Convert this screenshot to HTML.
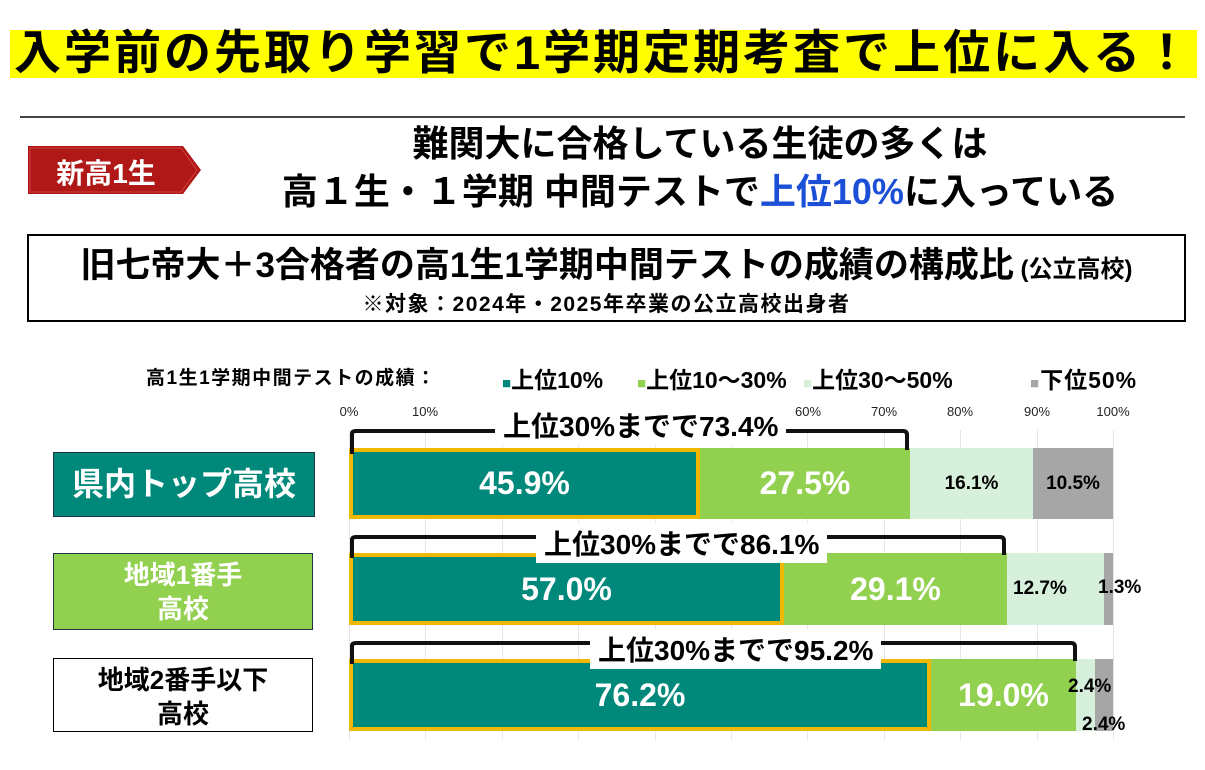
<!DOCTYPE html>
<html><head><meta charset="utf-8"><style>
body{margin:0;width:1205px;height:770px;background:#fff;position:relative;overflow:hidden;font-family:"Liberation Sans","Noto Sans CJK JP",sans-serif;}
.a{position:absolute;white-space:nowrap}
.b{font-weight:bold}
.seg{position:absolute;display:flex;align-items:center;justify-content:center;font-weight:bold}
.grid{position:absolute;top:430px;width:1px;height:310px;background:#e6e6e6}
.tick{position:absolute;top:404px;font-size:13px;color:#222;transform:translateX(-50%)}
</style></head><body>
<div class="a" style="left:10px;top:30px;width:1187px;height:48px;background:#ffff00"></div>
<div class="a b" style="left:14px;top:27px;font-size:47px;line-height:52px;letter-spacing:3px">入学前の先取り学習で1学期定期考査で上位に入る！</div>
<div class="a" style="left:20px;top:116px;width:1165px;height:2px;background:#444"></div>
<svg class="a" style="left:28px;top:146px" width="175" height="50"><polygon points="0,0 155,0 173,24 155,48 0,48" fill="#b01818"/><polygon points="2,2 153,2 169,24 153,46 2,46" fill="none" stroke="#d04040" stroke-width="1"/></svg>
<div class="a b" style="left:36px;top:152px;width:140px;font-size:28px;color:#fff;text-align:center">新高1生</div>
<div class="a b" style="left:200px;top:120px;width:1000px;text-align:center;font-size:36px;line-height:48px">難関大に合格している生徒の多くは<br>高１生・１学期 中間テストで<span style="color:#1a4fd6">上位10%</span>に入っている</div>
<div class="a" style="left:27px;top:234px;width:1155px;height:84px;border:2px solid #000"></div>
<div class="a b" style="left:27px;top:237px;width:1159px;text-align:center;font-size:35px">旧七帝大＋3合格者の高1生1学期中間テストの成績の構成比<span style="font-size:24px"> (公立高校)</span></div>
<div class="a b" style="left:27px;top:288px;width:1159px;text-align:center;font-size:21px;letter-spacing:1.5px">※対象：2024年・2025年卒業の公立高校出身者</div>

<div class="a b" style="left:146px;top:363px;font-size:19px;letter-spacing:1.5px">高1生1学期中間テストの成績：</div>
<div class="a b" style="left:502px;top:361px;font-size:23px"><span style="color:#00897b;font-size:15px">■</span>上位10%</div>
<div class="a b" style="left:637px;top:361px;font-size:23px"><span style="color:#92d050;font-size:15px">■</span>上位10～30%</div>
<div class="a b" style="left:803px;top:361px;font-size:23px"><span style="color:#d6f0dc;font-size:15px">■</span>上位30～50%</div>
<div class="a b" style="left:1030px;top:361px;font-size:23px;letter-spacing:1px"><span style="color:#a6a6a6;font-size:15px">■</span>下位50%</div>

<div class="grid" style="left:349px"></div><div class="grid" style="left:425px"></div><div class="grid" style="left:502px"></div><div class="grid" style="left:578px"></div><div class="grid" style="left:655px"></div><div class="grid" style="left:731px"></div><div class="grid" style="left:807px"></div><div class="grid" style="left:884px"></div><div class="grid" style="left:960px"></div><div class="grid" style="left:1037px"></div><div class="grid" style="left:1113px"></div>
<div class="tick" style="left:349px">0%</div><div class="tick" style="left:425px">10%</div><div class="tick" style="left:808px">60%</div><div class="tick" style="left:884px">70%</div><div class="tick" style="left:960px">80%</div><div class="tick" style="left:1037px">90%</div><div class="tick" style="left:1113px">100%</div>

<div class="a b" style="left:53px;top:452px;width:260px;height:63px;background:#00897b;border:1px solid #234;color:#fff;font-size:32px;line-height:63px;text-align:center">県内トップ高校</div>
<div class="a b" style="left:53px;top:553px;width:260px;background:#92d050;border:1px solid #234;color:#fff;font-size:26px;line-height:34px;text-align:center;padding-top:4px;box-sizing:border-box;height:77px">地域1番手<br>高校</div>
<div class="a b" style="left:53px;top:658px;width:260px;height:74px;background:#fff;border:1px solid #000;font-size:26px;line-height:34px;text-align:center;padding-top:4px;box-sizing:border-box">地域2番手以下<br>高校</div>

<div class="seg" style="left:349px;top:448px;width:351px;height:71px;background:#00897b;border:4px solid #f0b800;box-sizing:border-box;color:#fff;font-size:32px">45.9%</div>
<div class="seg" style="left:700px;top:448px;width:210px;height:71px;background:#92d050;color:#fff;font-size:32px">27.5%</div>
<div class="seg" style="left:910px;top:448px;width:123px;height:71px;background:#d6f0dc;font-size:19px">16.1%</div>
<div class="seg" style="left:1033px;top:448px;width:80px;height:71px;background:#a6a6a6;font-size:19px">10.5%</div>
<div class="seg" style="left:349px;top:553px;width:435px;height:72px;background:#00897b;border:4px solid #f0b800;box-sizing:border-box;color:#fff;font-size:32px">57.0%</div>
<div class="seg" style="left:784px;top:553px;width:223px;height:72px;background:#92d050;color:#fff;font-size:32px">29.1%</div>
<div class="seg" style="left:1007px;top:553px;width:97px;height:72px;background:#d6f0dc;font-size:19px;justify-content:flex-start;padding-left:6px;box-sizing:border-box">12.7%</div>
<div class="a" style="left:1104px;top:553px;width:9px;height:72px;background:#a6a6a6"></div>
<div class="a b" style="left:1098px;top:577px;font-size:19px">1.3%</div>
<div class="seg" style="left:349px;top:659px;width:582px;height:72px;background:#00897b;border:4px solid #f0b800;box-sizing:border-box;color:#fff;font-size:32px">76.2%</div>
<div class="seg" style="left:931px;top:659px;width:145px;height:72px;background:#92d050;color:#fff;font-size:32px">19.0%</div>
<div class="a" style="left:1076px;top:659px;width:19px;height:72px;background:#d6f0dc"></div>
<div class="a" style="left:1095px;top:659px;width:18px;height:72px;background:#a6a6a6"></div>
<div class="a b" style="left:1068px;top:676px;font-size:19px">2.4%</div>
<div class="a b" style="left:1082px;top:714px;font-size:19px">2.4%</div>

<svg class="a" style="left:0;top:0" width="1205" height="770" fill="none" stroke="#111" stroke-width="4">
<path d="M352 454 V434 Q352 431 356 431 H903 Q907 431 907 435 V450"/>
<path d="M352 558 V540 Q352 537 356 537 H1000 Q1004 537 1004 541 V555"/>
<path d="M352 664 V646 Q352 643 356 643 H1071 Q1075 643 1075 647 V661"/>
</svg>
<div class="a b" style="left:495px;top:405px;font-size:28px;background:#fff;padding:0 8px">上位30%までで73.4%</div>
<div class="a b" style="left:536px;top:523px;font-size:28px;background:#fff;padding:0 8px">上位30%までで86.1%</div>
<div class="a b" style="left:590px;top:629px;font-size:28px;background:#fff;padding:0 8px">上位30%までで95.2%</div>
</body></html>
